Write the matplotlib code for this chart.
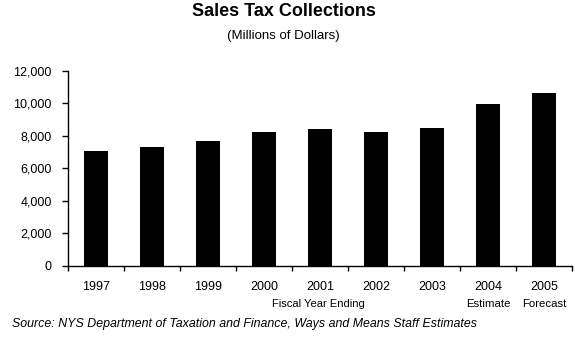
import matplotlib
matplotlib.use("Agg")
import matplotlib.pyplot as plt
from matplotlib.ticker import FuncFormatter, FixedLocator
from matplotlib.transforms import blended_transform_factory

# Sales tax collections by fiscal year, millions of dollars
years = ["1997", "1998", "1999", "2000", "2001", "2002", "2003", "2004", "2005"]
collections = [7060, 7290, 7680, 8230, 8400, 8230, 8460, 9960, 10630]
notes = {"2004": "Estimate", "2005": "Forecast"}

title = "Sales Tax Collections"
subtitle = "(Millions of Dollars)"
xlabel = "Fiscal Year Ending"
source = "Source: NYS Department of Taxation and Finance, Ways and Means Staff Estimates"

plt.rcParams["font.family"] = ["Liberation Sans", "DejaVu Sans"]

W, H = 575, 339
fig = plt.figure(figsize=(W / 100, H / 100), dpi=100)
ax = fig.add_axes([68 / W, 1 - 265.5 / H, (572 - 68) / W, (265.5 - 70.7) / H])

x = list(range(len(years)))
ax.bar(x, collections, width=0.43, color="black", zorder=2)

ax.set_xlim(-0.5, len(years) - 0.5)
ax.set_ylim(0, 12000)
ax.set_yticks(range(0, 12001, 2000))
ax.yaxis.set_major_formatter(FuncFormatter(lambda v, p: f"{int(v):,}"))

ax.set_xticks(x)
ax.set_xticklabels(years)
ax.xaxis.set_minor_locator(FixedLocator([i - 0.5 for i in range(len(years) + 1)]))

for side in ("top", "right"):
    ax.spines[side].set_visible(False)
for side in ("left", "bottom"):
    ax.spines[side].set_linewidth(1.0)
    ax.spines[side].set_color("black")

ax.tick_params(axis="y", direction="out", length=4.3, width=1.0,
               labelsize=9, pad=7.5, colors="black")
ax.tick_params(axis="x", which="major", length=0, labelsize=9, pad=11)
ax.tick_params(axis="x", which="minor", direction="out", length=3.6, width=1.0)

# second-line notes under the projected years
trans = blended_transform_factory(ax.transData, fig.transFigure)
for i, yr in enumerate(years):
    if yr in notes:
        ax.text(i, 1 - 304 / H, notes[yr], transform=trans, ha="center",
                va="center", fontsize=8.2)

fig.text(318 / W, 1 - 304 / H, xlabel, ha="center", va="center", fontsize=8)
fig.text(284 / W, 1 - 11 / H, title, ha="center", va="center",
         fontsize=13, fontweight="bold")
fig.text(283 / W, 1 - 36 / H, subtitle, ha="center", va="center", fontsize=9.5)
fig.text(12 / W, 1 - 323.5 / H, source, ha="left", va="center",
         fontsize=8.9, style="italic")

fig.savefig("out.png", dpi=100)
